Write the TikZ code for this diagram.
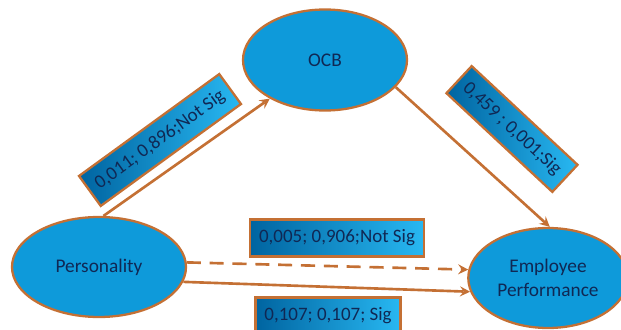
\documentclass[tikz,border=0pt]{standalone}
\usepackage{fontspec}
\setmainfont{Carlito}
\usetikzlibrary{shapes.geometric}
\definecolor{fillblue}{RGB}{14,154,218}
\definecolor{darkblue}{RGB}{0,100,160}
\definecolor{lightblue}{RGB}{40,184,242}
\definecolor{rim}{RGB}{196,112,52}
\definecolor{ink}{RGB}{16,40,84}
\begin{document}
\begin{tikzpicture}[>=stealth,
    var/.style={ellipse,draw=rim,line width=1.3pt,fill=fillblue,text=ink,align=center,font=\fontsize{11}{14}\selectfont},
    coef/.style={draw=rim,line width=1.3pt,left color=darkblue,right color=lightblue,text=ink,inner xsep=5pt,minimum height=0.74cm,font=\fontsize{10.8}{12}\selectfont},
    link/.style={->,rim,line width=1.5pt}]
      \useasboundingbox (0,0) rectangle (12.42,6.58);
      \node[var,minimum width=3.48cm,minimum height=2cm] (pers) at (1.98,1.24) {Personality};
      \node[var,minimum width=3.28cm,minimum height=2.02cm] (ocb) at (6.5,5.38) {OCB};
      \node[var,minimum width=3.12cm,minimum height=2cm] (emp) at (10.96,1.02) {Employee\\Performance};
      \draw[link] (pers.85) -- (ocb.215);
      \draw[link] (ocb.339) -- (emp.88);
      \draw[link,dash pattern=on 8pt off 5pt] (pers.3) -- (emp.174);
      \draw[link] (pers.350) -- (emp.190);
      \node[coef,rotate=36] (po) at (3.2,3.78) {0,011; 0,896;Not Sig};
      \node[coef,rotate=-43] (oe) at (10.24,4.0) {0,459 ; 0,001;Sig};
      \node[coef] (pe) at (6.74,1.82) {0,005; 0,906;Not Sig};
      \node[coef] (pd) at (6.56,0.26) {0,107; 0,107; Sig};
    \end{tikzpicture}
\end{document}
